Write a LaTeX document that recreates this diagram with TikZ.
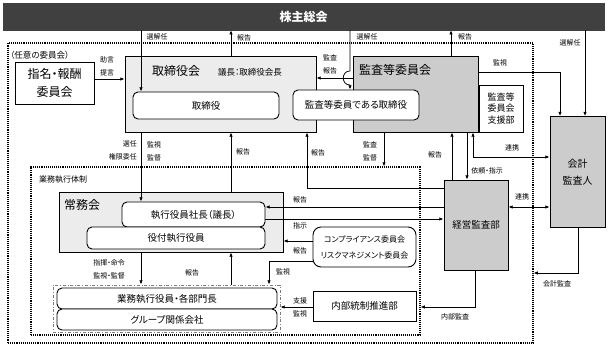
\documentclass[tikz,border=0pt]{standalone}
\usepackage{fontspec}
\setmainfont{Noto Sans CJK JP}[RawFeature=+palt]
\usetikzlibrary{arrows.meta,positioning,calc}
\definecolor{bargray}{RGB}{64,64,64}
\definecolor{boardfill}{RGB}{236,236,236}
\definecolor{auditfill}{RGB}{204,204,204}
\definecolor{grpline}{RGB}{125,125,125}
\tikzset{
  >={Latex[length=4.2pt,width=3.4pt]},
  flow/.style={->, line width=0.75pt, draw=black},
  mutual/.style={<->, line width=0.75pt, draw=black},
  topbar/.style={draw=bargray, fill=bargray, text=white, inner sep=0pt,
    font=\fontsize{12}{14}\selectfont\bfseries},
  boardbox/.style={draw=black, line width=0.9pt, fill=boardfill, inner sep=0pt},
  auditbox/.style={draw=black, line width=0.9pt, fill=auditfill, inner sep=0pt,
    align=center, font=\fontsize{9.5}{12}\selectfont},
  plainbox/.style={draw=black, line width=0.9pt, fill=white, inner sep=0pt,
    align=center, font=\fontsize{9.5}{12}\selectfont},
  roundbox/.style={draw=black, line width=0.9pt, fill=white, rounded corners=5pt,
    inner sep=0pt, align=center, font=\fontsize{9.5}{12}\selectfont},
  boxtitle/.style={font=\fontsize{12}{14}\selectfont, inner sep=0pt},
  flowlabel/.style={font=\fontsize{7}{13}\selectfont, inner sep=0pt, align=center},
  govframe/.style={draw=black, densely dotted, line width=1.1pt, inner sep=0pt},
  grpframe/.style={draw=grpline, dashdotted, line width=0.9pt, inner sep=0pt}
}

\begin{document}
\begin{tikzpicture}[x=1pt, y=-1pt]
  \useasboundingbox (0,0) rectangle (609,348);

  % Frames.
  \node[govframe, minimum width=525pt, minimum height=300pt] (gov) at (270.5,193) {};
  \node[govframe, minimum width=389pt, minimum height=168pt] (exec) at (225.5,251) {};
  \node[flowlabel, font=\fontsize{8}{9}\selectfont, anchor=west] (execlabel) at (39,180) {業務執行体制};
  \node[flowlabel, font=\fontsize{8.5}{10}\selectfont, anchor=west] (optlabel) at (10,55) {（任意の委員会）};

  % Shareholders and board.
  \node[topbar, minimum width=601pt, minimum height=27pt] (agm) at (303.5,16.5) {株主総会};
  \node[plainbox, minimum width=79pt, minimum height=42pt, font=\fontsize{12}{18}\selectfont] (nomcom) at (54.5,83) {指名・報酬\\委員会};
  \node[boardbox, minimum width=191pt, minimum height=76pt] (board) at (220.5,94) {};
  \node[boxtitle] (boardtitle) at (176,71) {取締役会};
  \node[flowlabel, font=\fontsize{8.5}{10}\selectfont] (chair) at (250,72) {議長：取締役会長};
  \node[roundbox, minimum width=146pt, minimum height=27pt] (director) at (206,105.5) {取締役};

  % Audit side.
  \node[auditbox, minimum width=125pt, minimum height=76pt] (audcom) at (415.5,94) {};
  \node[boxtitle] (audtitle) at (395,70) {監査等委員会};
  \node[roundbox, minimum width=126pt, minimum height=30pt] (auddir) at (356,105) {監査等委員である取締役};
  \node[plainbox, minimum width=44pt, minimum height=47pt, font=\fontsize{9}{11.5}\selectfont] (support) at (501,108.5) {監査等\\委員会\\支援部};
  \node[auditbox, minimum width=55pt, minimum height=111pt, font=\fontsize{10}{17}\selectfont] (auditor) at (577.5,172) {会計\\監査人};
  \node[auditbox, minimum width=64pt, minimum height=90pt] (intaudit) at (476,225) {経営監査部};

  % Execution.
  \node[boardbox, minimum width=224pt, minimum height=60pt] (jomu) at (171,222) {};
  \node[boxtitle] (jomutitle) at (82,205) {常務会};
  \node[roundbox, minimum width=143pt, minimum height=25pt] (president) at (193.5,214.5) {執行役員社長（議長）};
  \node[roundbox, minimum width=178pt, minimum height=22pt] (senior) at (176,238) {役付執行役員};
  \node[roundbox, minimum width=103pt, minimum height=40pt, rounded corners=8pt, font=\fontsize{8}{16}\selectfont] (risk) at (364.5,247) {コンプライアンス委員会\\リスクマネジメント委員会};
  \node[plainbox, minimum width=103pt, minimum height=30pt] (control) at (364.5,306) {内部統制推進部};
  \node[grpframe, minimum width=227pt, minimum height=47pt] (grp) at (166.5,308.5) {};
  \node[roundbox, minimum width=220pt, minimum height=21pt] (officers) at (167,298.5) {業務執行役員・各部門長};
  \node[roundbox, minimum width=220pt, minimum height=21pt] (affil) at (167,319.5) {グループ関係会社};

  % Shareholders' meeting connectors.
  \draw[flow] (141,0 |- agm.south) -- (141,0 |- director.north);
  \draw[flow] (231,0 |- board.north) -- (231,0 |- agm.south);
  \draw[flow] (350,0 |- agm.south) -- (350,71) .. controls (341,71) and (341,85) .. (350,85) -- (350,0 |- auddir.north);
  \draw[flow] (451,0 |- audcom.north) -- (451,0 |- agm.south);
  \draw[flow] (585,0 |- agm.south) -- (585,0 |- auditor.north);
  \draw[flow] (audcom.east |- 0,72) -| (560,0 |- auditor.north);
  \draw[flow] (audcom.west |- 0,78) -- (board.east |- 0,78);
  \draw[flow] (nomcom.east |- 0,79) -- (board.west |- 0,79);

  % Audit connectors.
  \draw[flow] (384,0 |- audcom.south) -- (384,0 |- exec.north);
  \draw[flow] (452,0 |- intaudit.north) -- (452,0 |- audcom.south);
  \draw[flow] (467,0 |- audcom.south) -- (467,0 |- intaudit.north);
  \draw[mutual] (473,0 |- audcom.south) |- (auditor.west |- 0,157);
  \draw[mutual] (intaudit.east |- 0,207) -- (auditor.west |- 0,207);
  \draw[flow] (578,0 |- auditor.south) |- (gov.east |- 0,273);
  \draw[flow] (475,0 |- intaudit.south) |- (exec.east |- 0,307);

  % Execution connectors.
  \draw[flow] (141,0 |- board.south) -- (141,0 |- president.north);
  \draw[flow] (231,0 |- jomu.north) -- (231,0 |- board.south);
  \draw[flow] (intaudit.west |- 0,188) -| (307,0 |- board.south);
  \draw[flow] (intaudit.west |- 0,207) -- (president.east |- 0,207);
  \draw[flow] (president.east |- 0,219) -- (intaudit.west |- 0,219);
  \draw[flow] (risk.west |- 0,241) -- (jomu.east |- 0,241);
  \draw[flow] (risk.west |- 0,261) -| (269,0 |- grp.north);
  \draw[flow] (141,0 |- jomu.south) -- (141,0 |- grp.north);
  \draw[flow] (231,0 |- grp.north) -- (231,0 |- jomu.south);
  \draw[flow] (control.west |- 0,307) -- (grp.east |- 0,307);

  % Connector labels.
  \node[flowlabel] (electa) at (157,37) {選解任};
  \node[flowlabel] (repa) at (244,38) {報告};
  \node[flowlabel] (electb) at (367,37) {選解任};
  \node[flowlabel] (repb) at (465,37) {報告};
  \node[flowlabel] (electc) at (570,43) {選解任};
  \node[flowlabel] (watcha) at (500,63) {監視};
  \node[flowlabel] (advice) at (107,66) {助言\\提言};
  \node[flowlabel] (auditrep) at (330,64) {監査\\報告};
  \node[flowlabel] (supervise) at (370,151) {監査\\監督};
  \node[flowlabel] (repc) at (435,155) {報告};
  \node[flowlabel] (request) at (487,171) {依頼・指示};
  \node[flowlabel] (linka) at (512,148) {連携};
  \node[flowlabel] (linkb) at (522,197) {連携};
  \node[flowlabel] (extaudit) at (557,284) {会計監査};
  \node[flowlabel] (intaud) at (455,317) {内部監査};
  \node[flowlabel, align=right, anchor=east] (appoint) at (137,150.5) {選任\\権限委任};
  \node[flowlabel, align=left, anchor=west] (monitor) at (147,151) {監視\\監督};
  \node[flowlabel] (repd) at (243,152) {報告};
  \node[flowlabel] (repe) at (318,153) {報告};
  \node[flowlabel] (repf) at (300,200) {報告};
  \node[flowlabel] (order) at (300,226) {指示};
  \node[flowlabel] (repg) at (300,251) {報告};
  \node[flowlabel] (watchb) at (283,272) {監視};
  \node[flowlabel] (command) at (109,269) {指揮・命令\\監視・監督};
  \node[flowlabel] (reph) at (192,273) {報告};
  \node[flowlabel] (assist) at (300,307) {支援\\監視};
\end{tikzpicture}
\end{document}
